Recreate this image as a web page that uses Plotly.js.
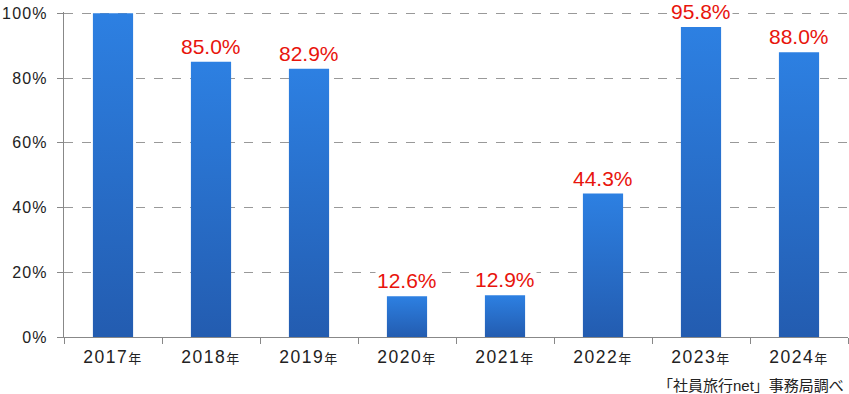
<!DOCTYPE html>
<html>
<head>
<meta charset="utf-8">
<script src="https://cdn.plot.ly/plotly-3.0.1.min.js"></script>
<style>
html,body{margin:0;padding:0;background:#fff;}
.xtick text{letter-spacing:1.5px;}
.ytick text{letter-spacing:1.2px;}
</style>
</head>
<body>
<div id="chart" style="width:849px;height:394px;"></div>
<script>
const categories = ["2017年","2018年","2019年","2020年","2021年","2022年","2023年","2024年"];
const values = [100, 85.0, 82.9, 12.6, 12.9, 44.3, 95.8, 88.0];
const labels = ["", "85.0%", "82.9%", "12.6%", "12.9%", "44.3%", "95.8%", "88.0%"];
const tickText = ["2017", "2018", "2019", "2020", "2021", "2022", "2023", "2024"];
const yTickVals = [0, 20, 40, 60, 80, 100];
const yTickText = ["0%", "20%", "40%", "60%", "80%", "100%"];
const sourceText = "「社員旅行net」事務局調べ";

const FONT = "Arial, 'Liberation Sans', 'Noto Sans CJK JP', sans-serif";

const trace = {
  type: "bar",
  x: categories,
  y: values,
  marker: {color: "#2a6fcf", line: {width: 0}},
  hoverinfo: "none"
};

const annotations = [];
categories.forEach((c, i) => {
  if (labels[i]) {
    annotations.push({
      x: c, y: values[i], xref: "x", yref: "y",
      text: labels[i], showarrow: false,
      yanchor: "bottom", yshift: 2,
      bgcolor: "#ffffff", borderpad: 1,
      font: {family: FONT, size: 21, color: "#e8140c"}
    });
  }
});
annotations.push({
  xref: "paper", yref: "paper", x: 1, y: 0, xanchor: "right", yanchor: "middle",
  yshift: -48, xshift: -2,
  text: sourceText, showarrow: false,
  font: {family: FONT, size: 15, color: "#222"}
});

const layout = {
  width: 849, height: 394,
  margin: {l: 64, r: 1, t: 12, b: 57},
  paper_bgcolor: "#fff", plot_bgcolor: "#fff",
  bargap: 0.59,
  showlegend: false,
  font: {family: FONT, color: "#222"},
  xaxis: {
    type: "category",
    tickson: "boundaries",
    ticks: "outside", ticklen: 6, tickcolor: "#888", tickwidth: 1,
    showline: true, linecolor: "#888", linewidth: 1,
    showgrid: false,
    tickvals: categories,
    ticktext: tickText.map(t => t + '<span style="font-size:13px">年</span>'),
    ticklabelstandoff: 4,
    tickfont: {family: FONT, size: 17.5, color: "#222"}
  },
  yaxis: {
    range: [0, 100.4],
    tickvals: yTickVals, ticktext: yTickText,
    ticks: "outside", ticklen: 6, tickcolor: "#888",
    showline: true, linecolor: "#888", linewidth: 1,
    showgrid: true, gridcolor: "#999", griddash: "dash", gridwidth: 1,
    zeroline: false,
    ticklabelstandoff: 6,
    tickfont: {family: FONT, size: 16, color: "#222"}
  },
  annotations: annotations
};

function applyGradient() {
  const gd = document.getElementById("chart");
  const svg = gd.querySelector("svg.main-svg");
  if (!svg) return;
  const ns = "http://www.w3.org/2000/svg";
  let defs = svg.querySelector("defs");
  if (!defs) { defs = document.createElementNS(ns, "defs"); svg.insertBefore(defs, svg.firstChild); }
  if (!svg.querySelector("#barGrad")) {
    const g = document.createElementNS(ns, "linearGradient");
    g.setAttribute("id", "barGrad");
    g.setAttribute("x1", "0"); g.setAttribute("y1", "0");
    g.setAttribute("x2", "0"); g.setAttribute("y2", "1");
    const s1 = document.createElementNS(ns, "stop");
    s1.setAttribute("offset", "0"); s1.setAttribute("stop-color", "#2d80e2");
    const s2 = document.createElementNS(ns, "stop");
    s2.setAttribute("offset", "1"); s2.setAttribute("stop-color", "#235cb0");
    g.appendChild(s1); g.appendChild(s2);
    defs.appendChild(g);
  }
  gd.querySelectorAll(".bars .point path").forEach(p => {
    p.style.fill = "url(#barGrad)";
  });
}

Plotly.newPlot("chart", [trace], layout, {staticPlot: true, displayModeBar: false}).then(gd => {
  applyGradient();
  gd.on("plotly_afterplot", applyGradient);
});
</script>
</body>
</html>
